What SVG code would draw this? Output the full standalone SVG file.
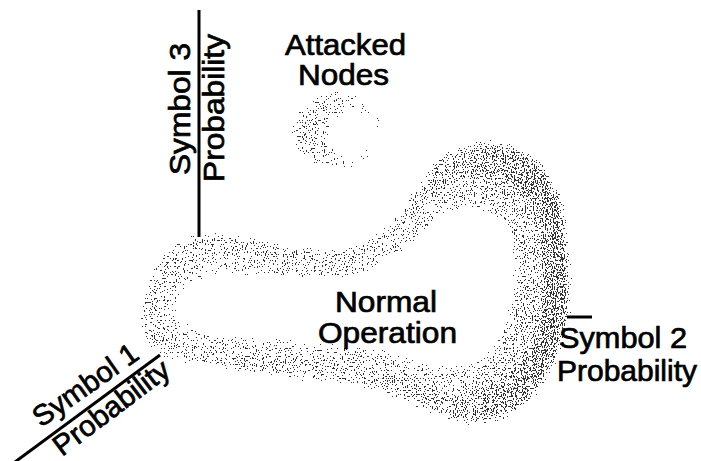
<svg xmlns="http://www.w3.org/2000/svg" width="701" height="461" viewBox="0 0 701 461">
  <style>
    .lbl { font-family: "Liberation Sans", Arial, Helvetica, sans-serif; font-size: 29px; fill: #000; stroke: #000; stroke-width: 0.7px; }
    .axis { stroke: #000; stroke-width: 3; fill: none; stroke-linecap: butt; }
  </style>
  <defs>
    <filter id="stipple" filterUnits="userSpaceOnUse" x="0" y="0" width="701" height="461" color-interpolation-filters="sRGB">
      <feGaussianBlur in="SourceAlpha" stdDeviation="2.5" result="dens"/>
      <feTurbulence type="fractalNoise" baseFrequency="0.9 0.5" numOctaves="2" seed="11" result="noise"/>
      <feColorMatrix in="noise" type="matrix" values="0 0 0 0 0  0 0 0 0 0  0 0 0 0 0  2 0 0 0 -0.5" result="nA"/>
      <feComposite in="dens" in2="nA" operator="arithmetic" k1="0" k2="1" k3="-1" k4="0.48" result="diff"/>
      <feComponentTransfer in="diff" result="dots">
        <feFuncA type="discrete" tableValues="0 1"/>
      </feComponentTransfer>
      <feFlood flood-color="#333" result="ink"/>
      <feComposite in="ink" in2="dots" operator="in"/>
    </filter>
    <linearGradient id="outerBand" gradientUnits="userSpaceOnUse" x1="140" y1="0" x2="570" y2="0">
      <stop offset="0" stop-color="#000" stop-opacity="0.25"/>
      <stop offset="0.6" stop-color="#000" stop-opacity="0.27"/>
      <stop offset="1" stop-color="#000" stop-opacity="0.48"/>
    </linearGradient>
    <linearGradient id="innerBand" gradientUnits="userSpaceOnUse" x1="140" y1="0" x2="570" y2="0">
      <stop offset="0" stop-color="#000" stop-opacity="0.21"/>
      <stop offset="0.7" stop-color="#000" stop-opacity="0.22"/>
      <stop offset="1" stop-color="#000" stop-opacity="0.32"/>
    </linearGradient>
    <linearGradient id="smallBand" gradientUnits="userSpaceOnUse" x1="295" y1="0" x2="380" y2="0">
      <stop offset="0" stop-color="#000" stop-opacity="0.28"/>
      <stop offset="0.5" stop-color="#000" stop-opacity="0.17"/>
      <stop offset="1" stop-color="#000" stop-opacity="0.1"/>
    </linearGradient>
  </defs>

  <g id="axes">
    <line class="axis" x1="199" y1="10" x2="199" y2="237"/>
    <line class="axis" x1="15" y1="462" x2="160" y2="355"/>
    <line class="axis" x1="567" y1="317" x2="592" y2="317"/>
  </g>

  <g id="normal-operation">
    <g filter="url(#stipple)">
      <path fill="url(#outerBand)" fill-rule="evenodd" d="M173,250 C185,240 195,237 210,236 C230,235 255,240 275,246 C295,252 320,254 345,249 C365,245 385,235 400,216 C415,197 428,168 448,154 C465,143 490,141 510,147 C535,155 552,175 560,205 C567,230 569,265 568,295 C567,325 560,355 545,377 C530,400 510,418 485,421 C460,424 438,414 415,403 C390,391 360,383 320,379 C280,375 230,368 185,359 C160,354 145,345 143,328 C142,305 150,272 173,250 Z M179,267 C190,256 205,253 220,253 C245,254 265,260 290,263 C320,265 345,262 370,250 C390,240 405,225 420,208 C435,192 448,180 470,176 C495,172 520,185 533,210 C543,232 545,265 543,292 C541,320 535,345 520,362 C505,380 482,392 458,392 C435,392 418,380 395,371 C370,362 340,360 300,357 C260,354 225,351 195,345 C170,340 160,330 160,312 C160,295 166,278 179,267 Z"/>
      <path fill="url(#innerBand)" fill-rule="evenodd" d="M179,267 C190,256 205,253 220,253 C245,254 265,260 290,263 C320,265 345,262 370,250 C390,240 405,225 420,208 C435,192 448,180 470,176 C495,172 520,185 533,210 C543,232 545,265 543,292 C541,320 535,345 520,362 C505,380 482,392 458,392 C435,392 418,380 395,371 C370,362 340,360 300,357 C260,354 225,351 195,345 C170,340 160,330 160,312 C160,295 166,278 179,267 Z M185,285 C200,272 225,270 250,272 C280,275 310,280 340,276 C370,272 395,255 420,232 C440,214 460,205 480,207 C500,210 513,228 516,255 C519,285 512,320 498,345 C485,365 460,373 435,369 C410,364 390,352 360,348 C320,344 260,342 215,336 C190,333 175,322 175,305 C175,297 178,290 185,285 Z"/>
    </g>
    <text class="lbl" x="335" y="312" textLength="102" lengthAdjust="spacingAndGlyphs">Normal</text>
    <text class="lbl" x="318" y="343" textLength="139" lengthAdjust="spacingAndGlyphs">Operation</text>
  </g>

  <g id="attacked-nodes">
    <g filter="url(#stipple)">
      <path fill="url(#smallBand)" fill-rule="evenodd" d="M337,95 A42,36 0 1 0 337.01,95 Z M352,109 A26,24 0 1 0 352.01,109 Z"/>
    </g>
    <text class="lbl" x="285" y="55" textLength="121" lengthAdjust="spacingAndGlyphs">Attacked</text>
    <text class="lbl" x="298" y="85" textLength="91" lengthAdjust="spacingAndGlyphs">Nodes</text>
  </g>

  <g id="axis-symbol3">
    <text class="lbl" transform="translate(190,175) rotate(-90)" textLength="132" lengthAdjust="spacingAndGlyphs">Symbol 3</text>
    <text class="lbl" transform="translate(224,182) rotate(-90)" textLength="148" lengthAdjust="spacingAndGlyphs">Probability</text>
  </g>

  <g id="axis-symbol1">
    <text class="lbl" transform="translate(41,428) rotate(-35)" textLength="122" lengthAdjust="spacingAndGlyphs">Symbol 1</text>
    <text class="lbl" transform="translate(62,457) rotate(-37)" textLength="138" lengthAdjust="spacingAndGlyphs">Probability</text>
  </g>

  <g id="axis-symbol2">
    <text class="lbl" x="559" y="348" textLength="128" lengthAdjust="spacingAndGlyphs">Symbol 2</text>
    <text class="lbl" x="557" y="381" textLength="140" lengthAdjust="spacingAndGlyphs">Probability</text>
  </g>
</svg>
